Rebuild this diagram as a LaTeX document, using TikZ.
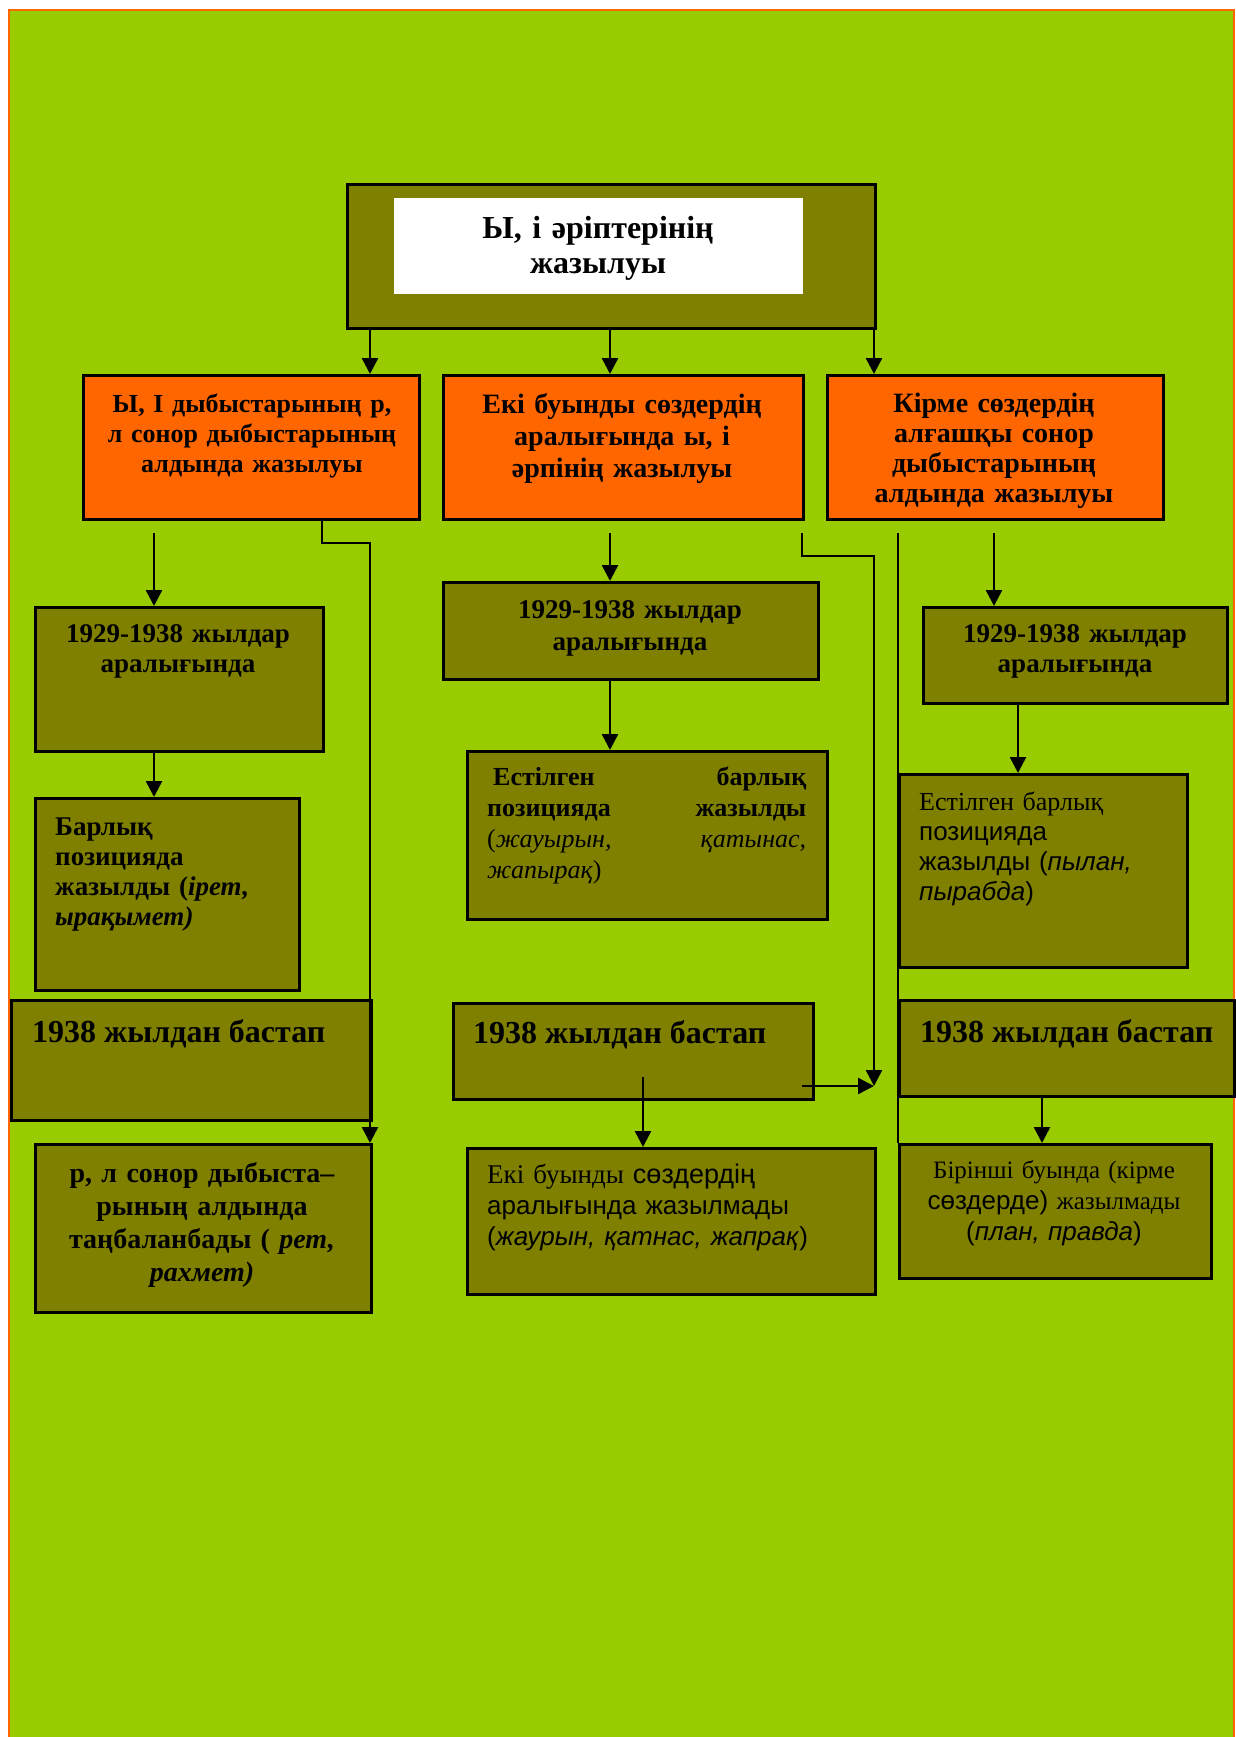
\documentclass[tikz,border=0pt]{standalone}
\usepackage{fontspec}
\setmainfont{Liberation Serif}
\newfontfamily\ar{Liberation Sans}
\usetikzlibrary{arrows.meta}
\definecolor{bggreen}{HTML}{99CC00}
\definecolor{boxolive}{HTML}{808000}
\definecolor{boxorange}{HTML}{FF6600}
\tikzset{
  bx/.style={draw=black, line width=2.5pt, fill=boxolive, inner sep=0pt, anchor=north west},
  obx/.style={bx, fill=boxorange},
  wbx/.style={fill=white, inner sep=0pt, anchor=north west},
  txt/.style={inner sep=0pt, anchor=base},
  ltxt/.style={inner sep=0pt, anchor=base west, align=left},
  arr/.style={line width=2.5pt, -{Triangle[width=16pt,length=16pt]}},
  ln/.style={line width=2.5pt}
}
\newcommand\fsz[2]{\fontsize{#1}{#2}\selectfont}
\begin{document}
\begin{tikzpicture}[x=1pt,y=-1pt]
\useasboundingbox (0,0) rectangle (1235,1737);
\fill[white] (0,0) rectangle (1235,1737);
\draw[fill=bggreen, draw=boxorange, line width=2pt] (9,10) rectangle (1234,1750);

% boxes
\node[bx, minimum width=528, minimum height=144] (top) at (346,183) {};
\node[wbx, minimum width=409, minimum height=96] (wt) at (394,198) {};
\node[obx, minimum width=336, minimum height=144] (o1) at (82,374) {};
\node[obx, minimum width=360, minimum height=144] (o2) at (442,374) {};
\node[obx, minimum width=336, minimum height=144] (o3) at (826,374) {};
\node[bx, minimum width=288, minimum height=144] (l1) at (34,606) {};
\node[bx, minimum width=264, minimum height=192] (l2) at (34,797) {};
\node[bx, minimum width=360, minimum height=120] (l3) at (10,999) {};
\node[bx, minimum width=336, minimum height=168] (l4) at (34,1143) {};
\node[bx, minimum width=375, minimum height=97] (m1) at (442,581) {};
\node[bx, minimum width=360, minimum height=168] (m2) at (466,750) {};
\node[bx, minimum width=360, minimum height=96] (m3) at (452,1002) {};
\node[bx, minimum width=408, minimum height=146] (m4) at (466,1147) {};
\node[bx, minimum width=304, minimum height=96] (r1) at (922,606) {};
\node[bx, minimum width=288, minimum height=193] (r2) at (898,773) {};
\node[bx, minimum width=335, minimum height=96] (r3) at (898,999) {};
\node[bx, minimum width=312, minimum height=134] (r4) at (898,1143) {};

% texts
\node[txt, text width=400, align=center, font=\bfseries\fsz{32}{35}] (tt) at (598,238) {Ы, і әріптерінің\\жазылуы};
\node[txt, text width=330, align=center, font=\bfseries\fsz{26}{30}] (o1t) at (252,412) {Ы, І дыбыстарының р,\\л сонор дыбыстарының\\алдында жазылуы};
\node[txt, text width=350, align=center, font=\bfseries\fsz{28}{32}] (o2t) at (622,413) {Екі буынды сөздердің\\аралығында ы, і\\әрпінің жазылуы};
\node[txt, text width=330, align=center, font=\bfseries\fsz{28}{30}] (o3t) at (994,412) {Кірме сөздердің\\алғашқы сонор\\дыбыстарының\\алдында жазылуы};

\node[txt, text width=280, align=center, font=\bfseries\fsz{27}{30}] (l1t) at (178,642) {1929-1938 жылдар\\аралығында};
\node[txt, text width=360, align=center, font=\bfseries\fsz{27}{32}] (m1t) at (630,618) {1929-1938 жылдар\\аралығында};
\node[txt, text width=300, align=center, font=\bfseries\fsz{27}{30}] (r1t) at (1075,642) {1929-1938 жылдар\\аралығында};

\node[ltxt, text width=235, font=\bfseries\fsz{27}{30}] (l2t) at (55,835) {Барлық\\позицияда\\жазылды (\textit{ірет,}\\\textit{ырақымет)}};
\node[ltxt, text width=319, font=\fsz{26}{31}] (m2t) at (487,785) {\hspace*{6pt}\textbf{Естілген}\hfill\textbf{барлық}\\\textbf{позицияда}\hfill\textbf{жазылды}\\(\textit{жауырын,}\hfill\textit{қатынас,}\\\textit{жапырақ})};
\node[ltxt, text width=260, font=\fsz{26}{30}] (r2t) at (919,810) {Естілген барлық\\{\ar\fsz{26}{30}позицияда}\\{\ar\fsz{26}{30}жазылды (\textit{пылан,}}\\{\ar\fsz{26}{30}\textit{пырабда})}};

\node[ltxt, font=\bfseries\fsz{32}{34}] (l3t) at (32,1042) {1938 жылдан бастап};
\node[ltxt, font=\bfseries\fsz{32}{34}] (m3t) at (473,1043) {1938 жылдан бастап};
\node[ltxt, font=\bfseries\fsz{32}{34}] (r3t) at (920,1042) {1938 жылдан бастап};

\node[txt, text width=330, align=center, font=\bfseries\fsz{28}{33}] (l4t) at (202,1182) {р, л сонор дыбыста–\\рының алдында\\таңбаланбады ( \textit{рет,}\\\textit{рахмет)}};
\node[ltxt, text width=380, font=\fsz{27}{31}] (m4t) at (487,1183) {Екі буынды {\ar\fsz{27}{31}сөздердің}\\{\ar\fsz{26}{31}аралығында жазылмады}\\{\ar\fsz{26}{31}(\textit{жаурын, қатнас, жапрақ})}};
\node[txt, text width=310, align=center, font=\fsz{25}{31}] (r4t) at (1054,1178) {Бірінші буында (кірме\\{\ar\fsz{26}{31}сөздерде)} жазылмады\\{\ar\fsz{26}{31}(\textit{план, правда})}};

% connector columns and levels
\coordinate (ca) at (370,0);
\coordinate (cb) at (610,0);
\coordinate (cc) at (874,0);
\coordinate (cd) at (154,0);
\coordinate (ce) at (322,0);
\coordinate (cf) at (802,0);
\coordinate (cg) at (898,0);
\coordinate (ch) at (994,0);
\coordinate (ci) at (1018,0);
\coordinate (cj) at (1042,0);
\coordinate (ck) at (643,0);
\coordinate (g) at (0,533);
\coordinate (e1) at (0,543);
\coordinate (e2) at (0,556);
\coordinate (hz) at (0,1086);
\coordinate (mi) at (0,1077);

% connectors
\draw[arr] (ca |- top.south) -- (ca |- o1.north);
\draw[arr] (cb |- top.south) -- (cb |- o2.north);
\draw[arr] (cc |- top.south) -- (cc |- o3.north);
\draw[arr] (cd |- g) -- (cd |- l1.north);
\draw[arr] (cd |- l1.south) -- (cd |- l2.north);
\draw[arr] (ce |- o1.south) -- (ce |- e1) -- (ca |- e1) -- (ca |- l4.north);
\draw[arr] (cb |- g) -- (cb |- m1.north);
\draw[arr] (cb |- m1.south) -- (cb |- m2.north);
\draw[arr] (cf |- g) -- (cf |- e2) -- (cc |- e2) -- (cc |- hz);
\draw[arr] (cf |- hz) -- (cc |- hz);
\draw[arr] (ck |- mi) -- (ck |- m4.north);
\draw[ln] (cg |- g) -- (r4.north west);
\draw[arr] (ch |- g) -- (ch |- r1.north);
\draw[arr] (ci |- r1.south) -- (ci |- r2.north);
\draw[arr] (cj |- r3.south) -- (cj |- r4.north);
\end{tikzpicture}
\end{document}
